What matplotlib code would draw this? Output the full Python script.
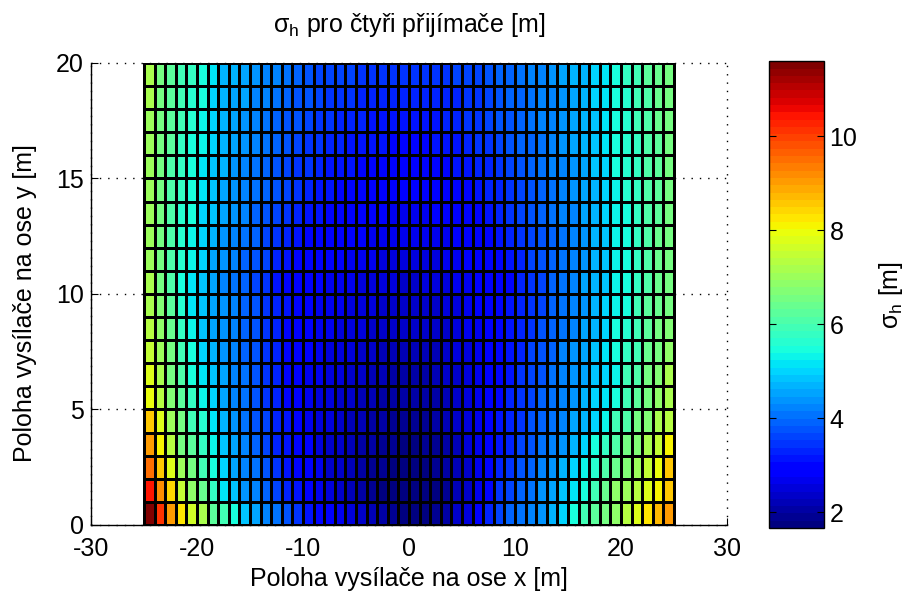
import matplotlib
matplotlib.use('Agg')
import matplotlib.pyplot as plt
import numpy as np

plt.rcParams['font.family'] = ['Liberation Sans', 'DejaVu Sans']
plt.rcParams['mathtext.fontset'] = 'custom'
plt.rcParams['mathtext.rm'] = 'Liberation Sans'
plt.rcParams['mathtext.it'] = 'Liberation Sans'
plt.rcParams['mathtext.default'] = 'regular'
plt.rcParams['axes.unicode_minus'] = False

# hranice bunek site (poloha vysilace)
x_hrany = np.arange(-25, 26, 1)
y_hrany = np.arange(0, 21, 1)

# sigma_h [m], radky shora (y = 19..20) dolu (y = 0..1), sloupce x = -25 .. 24
sigma_h_radky = [
    [7.1, 6.6, 6.3, 6.0, 5.75, 5.4, 5.15, 4.75, 4.7, 4.6, 4.4, 4.25, 4.15, 4.05, 3.95, 3.8, 3.65,
     3.6, 3.55, 3.55, 3.5, 3.5, 3.45, 3.45, 3.45, 3.45, 3.45, 3.5, 3.5, 3.55, 3.6, 3.65, 3.75,
     3.85, 3.95, 4.0, 4.15, 4.25, 4.4, 4.5, 4.65, 4.75, 5.0, 5.15, 5.4, 5.75, 5.9, 6.25, 6.4, 6.6],
    [7.1, 6.6, 6.2, 5.9, 5.6, 5.4, 5.0, 4.7, 4.6, 4.5, 4.3, 4.2, 4.05, 3.9, 3.8, 3.7, 3.55,
     3.5, 3.45, 3.4, 3.35, 3.3, 3.3, 3.25, 3.25, 3.25, 3.25, 3.3, 3.3, 3.35, 3.45, 3.5, 3.6,
     3.75, 3.85, 3.95, 4.05, 4.2, 4.3, 4.45, 4.6, 4.75, 4.95, 5.15, 5.4, 5.65, 5.9, 6.15, 6.35, 6.6],
    [7.0, 6.6, 6.2, 5.9, 5.6, 5.3, 5.0, 4.7, 4.55, 4.4, 4.25, 4.1, 3.95, 3.8, 3.7, 3.6, 3.5,
     3.4, 3.35, 3.3, 3.25, 3.2, 3.2, 3.15, 3.15, 3.15, 3.15, 3.2, 3.25, 3.3, 3.4, 3.5, 3.6,
     3.7, 3.8, 3.9, 4.0, 4.15, 4.25, 4.4, 4.55, 4.7, 4.9, 5.15, 5.4, 5.65, 5.9, 6.1, 6.35, 6.6],
    [7.0, 6.6, 6.2, 5.8, 5.5, 5.3, 4.95, 4.7, 4.5, 4.35, 4.2, 4.0, 3.85, 3.75, 3.6, 3.5, 3.4,
     3.3, 3.25, 3.2, 3.15, 3.1, 3.1, 3.05, 3.05, 3.05, 3.05, 3.1, 3.15, 3.2, 3.3, 3.4, 3.5,
     3.6, 3.7, 3.85, 3.95, 4.1, 4.2, 4.35, 4.5, 4.65, 4.85, 5.1, 5.4, 5.6, 5.85, 6.1, 6.3, 6.6],
    [7.0, 6.6, 6.1, 5.75, 5.4, 5.15, 4.9, 4.65, 4.45, 4.3, 4.1, 3.95, 3.8, 3.65, 3.5, 3.4, 3.3,
     3.2, 3.15, 3.1, 3.05, 3.0, 2.95, 2.95, 2.9, 2.9, 2.95, 2.95, 3.0, 3.1, 3.15, 3.25, 3.35,
     3.5, 3.6, 3.75, 3.85, 4.0, 4.15, 4.3, 4.45, 4.6, 4.8, 5.05, 5.4, 5.6, 5.85, 6.1, 6.3, 6.6],
    [7.0, 6.6, 6.1, 5.7, 5.4, 5.1, 4.85, 4.6, 4.4, 4.2, 4.05, 3.85, 3.7, 3.55, 3.4, 3.3, 3.2,
     3.1, 3.05, 3.0, 2.95, 2.9, 2.85, 2.85, 2.8, 2.8, 2.85, 2.85, 2.9, 3.0, 3.05, 3.15, 3.25,
     3.35, 3.5, 3.65, 3.8, 3.95, 4.1, 4.25, 4.4, 4.55, 4.75, 5.0, 5.35, 5.55, 5.8, 6.1, 6.3, 6.6],
    [7.0, 6.55, 6.1, 5.65, 5.4, 5.05, 4.8, 4.55, 4.35, 4.15, 3.95, 3.75, 3.6, 3.45, 3.3, 3.2, 3.1,
     3.0, 2.95, 2.9, 2.85, 2.8, 2.75, 2.7, 2.7, 2.7, 2.7, 2.75, 2.8, 2.9, 2.95, 3.05, 3.15,
     3.25, 3.4, 3.55, 3.7, 3.85, 4.0, 4.15, 4.3, 4.5, 4.7, 4.95, 5.3, 5.5, 5.8, 6.1, 6.3, 6.6],
    [7.05, 6.55, 6.15, 5.6, 5.35, 5.0, 4.7, 4.45, 4.25, 4.05, 3.85, 3.65, 3.45, 3.3, 3.15, 3.05, 2.95,
     2.9, 2.85, 2.8, 2.75, 2.7, 2.65, 2.6, 2.6, 2.6, 2.6, 2.65, 2.7, 2.8, 2.85, 2.95, 3.05,
     3.1, 3.25, 3.4, 3.6, 3.75, 3.95, 4.1, 4.25, 4.45, 4.65, 4.9, 5.25, 5.45, 5.75, 6.1, 6.35, 6.6],
    [7.05, 6.5, 6.15, 5.55, 5.25, 4.95, 4.6, 4.35, 4.15, 3.95, 3.75, 3.55, 3.35, 3.2, 3.05, 2.95, 2.85,
     2.8, 2.75, 2.7, 2.65, 2.6, 2.55, 2.5, 2.5, 2.5, 2.5, 2.55, 2.6, 2.7, 2.8, 2.85, 2.95,
     3.0, 3.15, 3.3, 3.55, 3.7, 3.9, 4.05, 4.2, 4.45, 4.65, 4.9, 5.25, 5.45, 5.75, 6.1, 6.35, 6.6],
    [7.1, 6.5, 6.15, 5.5, 5.15, 4.9, 4.5, 4.3, 4.0, 3.9, 3.65, 3.4, 3.15, 3.0, 2.9, 2.8, 2.75,
     2.7, 2.65, 2.6, 2.55, 2.5, 2.45, 2.45, 2.4, 2.4, 2.45, 2.5, 2.55, 2.6, 2.7, 2.75, 2.85,
     2.9, 3.0, 3.25, 3.5, 3.65, 3.9, 4.0, 4.25, 4.5, 4.75, 4.9, 5.25, 5.4, 5.75, 6.1, 6.4, 6.6],
    [7.25, 6.75, 6.3, 5.65, 5.15, 4.85, 4.6, 4.35, 4.15, 3.95, 3.7, 3.5, 3.3, 3.1, 2.95, 2.8, 2.7,
     2.65, 2.6, 2.55, 2.5, 2.45, 2.4, 2.4, 2.35, 2.35, 2.35, 2.4, 2.45, 2.55, 2.65, 2.75, 2.85,
     3.0, 3.15, 3.3, 3.5, 3.65, 3.85, 4.05, 4.25, 4.45, 4.7, 4.95, 5.25, 5.4, 5.9, 6.25, 6.4, 6.6],
    [7.3, 6.9, 6.4, 5.8, 5.3, 4.9, 4.6, 4.35, 4.15, 3.95, 3.7, 3.45, 3.25, 3.05, 2.9, 2.75, 2.65,
     2.6, 2.55, 2.5, 2.45, 2.4, 2.35, 2.3, 2.3, 2.3, 2.3, 2.35, 2.4, 2.5, 2.6, 2.7, 2.85,
     3.0, 3.15, 3.3, 3.5, 3.7, 3.9, 4.1, 4.3, 4.5, 4.75, 5.05, 5.4, 5.65, 5.9, 6.25, 6.5, 6.75],
    [7.5, 7.0, 6.5, 6.0, 5.4, 5.0, 4.7, 4.4, 4.2, 3.95, 3.7, 3.45, 3.25, 3.05, 2.9, 2.75, 2.6,
     2.55, 2.5, 2.45, 2.35, 2.3, 2.25, 2.2, 2.2, 2.2, 2.2, 2.25, 2.35, 2.45, 2.55, 2.7, 2.85,
     3.0, 3.15, 3.35, 3.55, 3.75, 3.95, 4.15, 4.35, 4.6, 4.85, 5.1, 5.4, 5.75, 6.0, 6.4, 6.6, 6.9],
    [7.75, 7.25, 6.6, 6.1, 5.5, 5.15, 4.85, 4.5, 4.25, 4.0, 3.7, 3.45, 3.25, 3.05, 2.85, 2.7, 2.6,
     2.5, 2.45, 2.4, 2.3, 2.25, 2.15, 2.1, 2.1, 2.1, 2.1, 2.2, 2.3, 2.4, 2.55, 2.7, 2.85,
     3.0, 3.2, 3.4, 3.6, 3.8, 4.0, 4.2, 4.4, 4.6, 4.85, 5.05, 5.25, 5.9, 6.15, 6.5, 6.75, 7.1],
    [8.0, 7.4, 6.75, 6.3, 5.75, 5.3, 4.95, 4.6, 4.3, 4.0, 3.75, 3.5, 3.25, 3.05, 2.85, 2.7, 2.55,
     2.45, 2.4, 2.3, 2.25, 2.15, 2.1, 2.05, 2.0, 2.0, 2.05, 2.1, 2.2, 2.35, 2.5, 2.65, 2.85,
     3.05, 3.25, 3.45, 3.65, 3.85, 4.05, 4.25, 4.45, 4.7, 4.95, 5.15, 5.4, 5.9, 6.25, 6.6, 6.9, 7.25],
    [8.5, 7.8, 7.0, 6.5, 6.0, 5.6, 5.1, 4.75, 4.4, 4.1, 3.8, 3.55, 3.3, 3.1, 2.9, 2.7, 2.55,
     2.45, 2.35, 2.25, 2.2, 2.1, 2.0, 1.95, 1.9, 1.9, 1.95, 2.05, 2.15, 2.3, 2.45, 2.65, 2.85,
     3.1, 3.3, 3.5, 3.7, 3.9, 4.1, 4.3, 4.5, 4.7, 4.95, 5.25, 5.9, 6.15, 6.5, 6.75, 7.25, 7.4],
    [9.0, 8.1, 7.4, 6.6, 6.3, 5.8, 5.25, 4.85, 4.5, 4.2, 3.9, 3.6, 3.35, 3.15, 2.95, 2.75, 2.55,
     2.4, 2.3, 2.2, 2.1, 2.0, 1.95, 1.85, 1.8, 1.8, 1.85, 1.95, 2.1, 2.25, 2.45, 2.65, 2.9,
     3.15, 3.35, 3.55, 3.8, 4.0, 4.2, 4.45, 4.7, 5.0, 5.4, 5.75, 6.15, 6.5, 6.75, 7.1, 7.5, 8.1],
    [9.5, 8.6, 7.75, 7.0, 6.5, 6.0, 5.4, 4.95, 4.6, 4.3, 4.0, 3.7, 3.45, 3.2, 3.0, 2.8, 2.6,
     2.4, 2.3, 2.2, 2.05, 1.95, 1.85, 1.75, 1.7, 1.7, 1.75, 1.85, 2.0, 2.2, 2.4, 2.65, 2.95,
     3.25, 3.45, 3.7, 3.9, 4.15, 4.4, 4.65, 4.95, 5.25, 5.65, 6.15, 6.4, 6.75, 7.0, 7.5, 8.0, 8.5],
    [10.4, 9.25, 8.35, 7.5, 6.9, 6.4, 5.75, 5.15, 4.8, 4.45, 4.15, 3.85, 3.6, 3.35, 3.1, 2.9, 2.7,
     2.5, 2.35, 2.2, 2.05, 1.95, 1.8, 1.72, 1.66, 1.66, 1.7, 1.8, 1.95, 2.15, 2.4, 2.7, 3.05,
     3.4, 3.6, 3.85, 4.1, 4.35, 4.6, 4.85, 5.1, 5.4, 5.9, 6.4, 6.9, 7.0, 7.4, 7.75, 8.1, 8.5],
    [11.6, 10.2, 9.1, 8.2, 7.6, 7.1, 6.3, 5.9, 5.4, 4.9, 4.5, 4.2, 4.0, 3.75, 3.5, 3.2, 2.95,
     2.75, 2.6, 2.45, 2.3, 2.15, 2.0, 1.9, 1.8, 1.75, 1.8, 1.9, 2.05, 2.3, 2.55, 2.9, 3.25,
     3.6, 3.85, 4.05, 4.25, 4.45, 4.7, 4.95, 5.4, 5.9, 6.25, 6.6, 6.9, 7.4, 7.75, 8.25, 8.75, 9.1],
]

sigma_h = np.flipud(np.array(sigma_h_radky))

fs = 18

fig = plt.figure(figsize=(9.09, 6.03), dpi=100)
ax = fig.add_axes([0.1001, 0.1294, 0.6997, 0.7662])

barvy = plt.get_cmap('jet', 64)
mesh = ax.pcolormesh(x_hrany, y_hrany, sigma_h, cmap=barvy,
                     vmin=sigma_h.min(), vmax=sigma_h.max(),
                     edgecolors='k', linewidth=0.9)

ax.set_xlim(-30, 30)
ax.set_ylim(0, 20)
ax.set_xticks(np.arange(-30, 31, 10))
ax.set_yticks(np.arange(0, 21, 5))
ax.set_axisbelow(True)
ax.grid(True, color='k', linestyle=(0, (1, 5)), linewidth=1.0)
# mrizka na okraji os (x = 30, y = 20) se nema orezavat
for car in ax.get_xgridlines() + ax.get_ygridlines():
    car.set_clip_on(False)
for s in ['top', 'right']:
    ax.spines[s].set_visible(False)
ax.spines['left'].set_linewidth(1.0)
ax.spines['bottom'].set_linewidth(1.0)
ax.tick_params(direction='in', length=5, labelsize=fs, top=False, right=False)
ax.tick_params(axis='x', pad=9)
ax.tick_params(axis='y', pad=5)

ax.set_xlabel('Poloha vysílače na ose x [m]', fontsize=fs)
ax.set_ylabel('Poloha vysílače na ose y [m]', fontsize=fs)
ax.xaxis.set_label_coords(0.5, -0.09)
ax.yaxis.set_label_coords(-0.085, 0.48)
ax.set_title(r'$\sigma_h$ pro čtyři přijímače [m]', fontsize=fs, pad=22)

# barevna skala
cax = fig.add_axes([0.846, 0.1244, 0.0605, 0.774])
cb = fig.colorbar(mesh, cax=cax)
cb.set_ticks([2, 4, 6, 8, 10])
cb.outline.set_edgecolor('k')
cb.outline.set_linewidth(1.0)
cax.tick_params(direction='in', length=5, left=True, right=True,
                labelleft=False, labelright=True, labelsize=fs, pad=4)
cb.set_label(r'$\sigma_h$ [m]', fontsize=fs, labelpad=14)

fig.savefig('out.png', dpi=100)
